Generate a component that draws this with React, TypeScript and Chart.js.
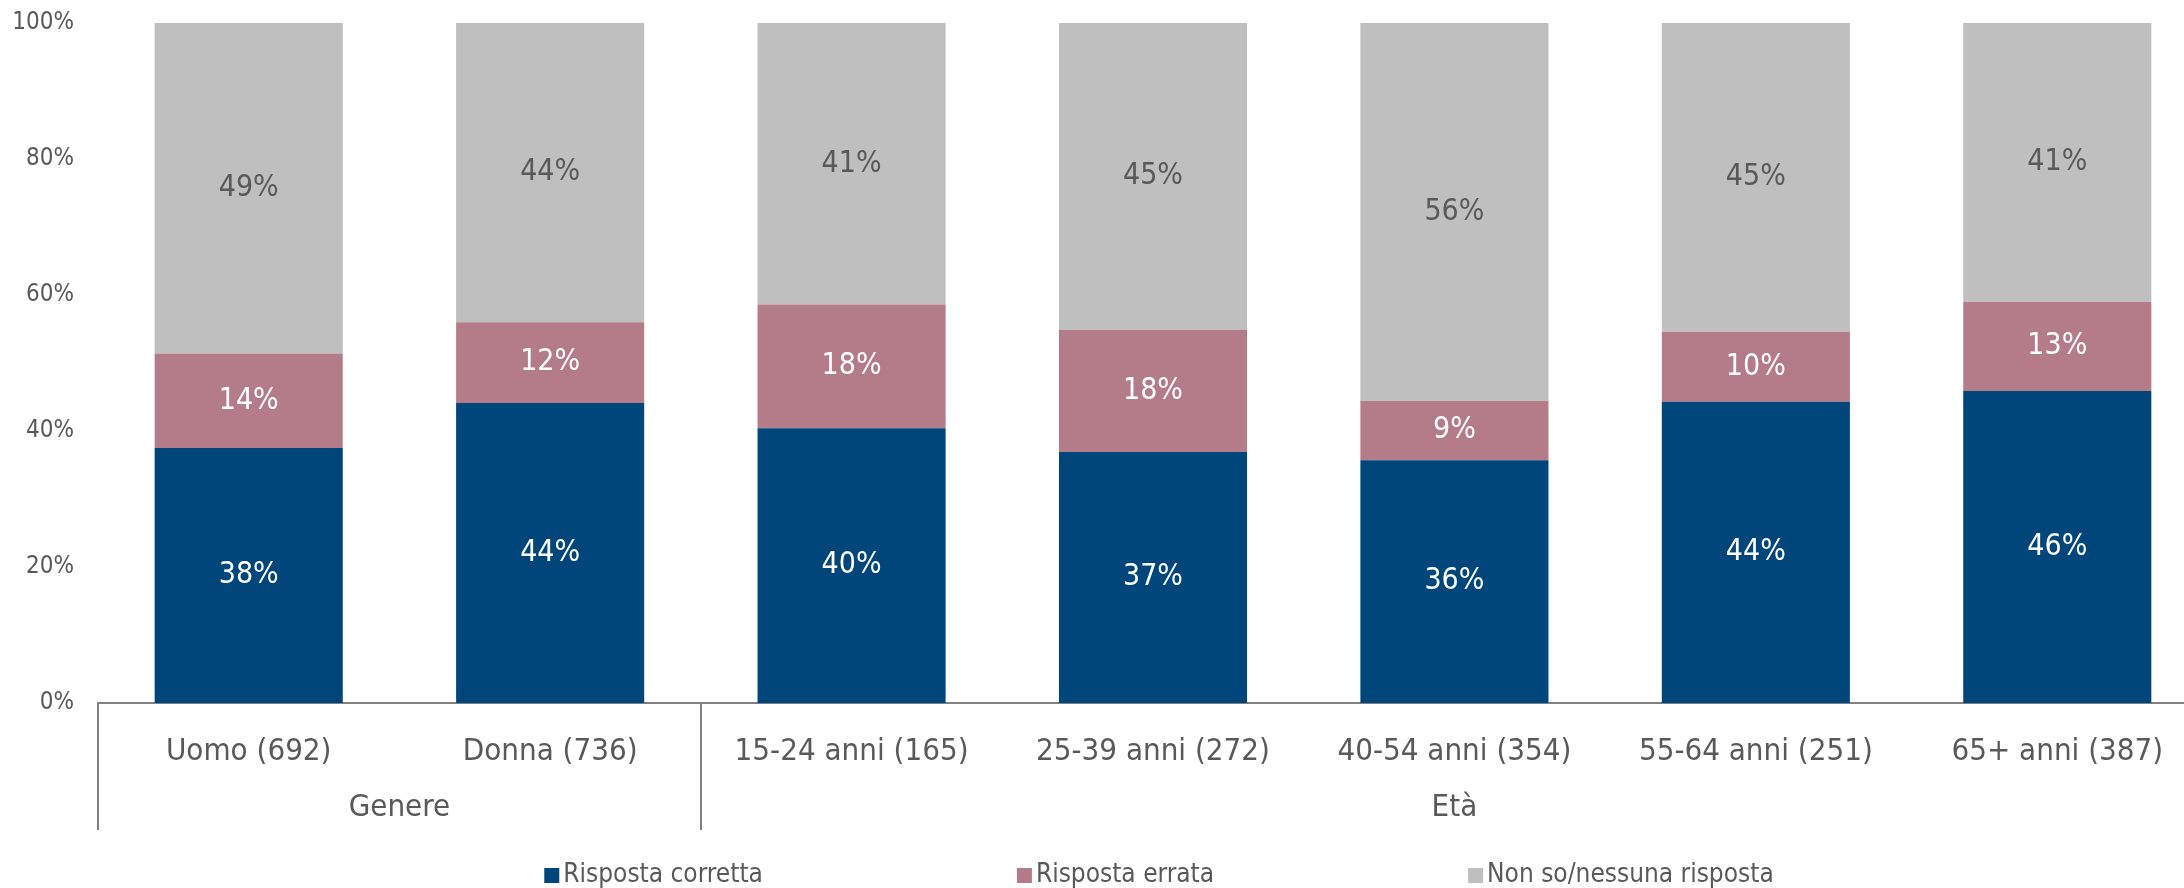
import React, { useEffect, useRef } from 'react';
import { Chart, registerables } from 'chart.js';

Chart.register(...registerables);

const categories = [
  'Uomo (692)',
  'Donna (736)',
  '15-24 anni (165)',
  '25-39 anni (272)',
  '40-54 anni (354)',
  '55-64 anni (251)',
  '65+ anni (387)',
];
const groupLabels = ['Genere', 'Età'];
const groupSizes = [2, 5];
const seriesNames = ['Risposta corretta', 'Risposta errata', 'Non so/nessuna risposta'];
const corretta = [37.5, 44.1, 40.4, 36.9, 35.7, 44.3, 45.9];
const errata = [13.9, 11.9, 18.2, 18.0, 8.7, 10.3, 13.1];
const nonSo = [48.6, 44.0, 41.4, 45.1, 55.6, 45.4, 41.0];
const yTickValues = [0, 20, 40, 60, 80, 100];

const seriesColors = ['#00467a', '#b47c88', '#bfbfbf'];
const labelColors = ['#ffffff', '#ffffff', '#595959'];
const FONT = "'DejaVu Sans Condensed', 'DejaVu Sans', sans-serif";
const TEXT = '#595959';
const AXIS = '#808080';

const dataLabelsPlugin = {
  id: 'dataLabels',
  afterDatasetsDraw(chart: any) {
    const ctx = chart.ctx;
    ctx.save();
    ctx.font = `30px ${FONT}`;
    ctx.textAlign = 'center';
    ctx.textBaseline = 'middle';
    chart.data.datasets.forEach((ds: any, di: number) => {
      const meta = chart.getDatasetMeta(di);
      meta.data.forEach((el: any, i: number) => {
        const v = ds.data[i];
        ctx.fillStyle = labelColors[di];
        ctx.fillText(Math.round(v) + '%', el.x, (el.y + el.base) / 2);
      });
    });
    ctx.restore();
  },
};

const groupAxisPlugin = {
  id: 'groupAxis',
  afterDraw(chart: any) {
    const ctx = chart.ctx;
    const x = chart.scales.x;
    const area = chart.chartArea;
    const boundary = (idx: number) => {
      if (idx <= 0) return area.left;
      if (idx >= categories.length) return area.right;
      return (x.getPixelForValue(idx - 1) + x.getPixelForValue(idx)) / 2;
    };
    ctx.save();
    ctx.strokeStyle = AXIS;
    ctx.lineWidth = 2;
    let start = 0;
    const top = area.bottom;
    const bottom = area.bottom + 127;
    groupSizes.forEach((n, gi) => {
      const l = boundary(start);
      const r = boundary(start + n);
      ctx.beginPath();
      ctx.moveTo(Math.round(l), top);
      ctx.lineTo(Math.round(l), bottom);
      ctx.stroke();
      if (gi === groupSizes.length - 1) {
        ctx.beginPath();
        ctx.moveTo(Math.round(r), top);
        ctx.lineTo(Math.round(r), bottom);
        ctx.stroke();
      }
      ctx.fillStyle = TEXT;
      ctx.font = `31px ${FONT}`;
      ctx.textAlign = 'center';
      ctx.textBaseline = 'middle';
      ctx.fillText(groupLabels[gi], (l + r) / 2, area.bottom + 105);
      start += n;
    });
    ctx.restore();
  },
};

const legendPlugin = {
  id: 'customLegend',
  afterDraw(chart: any) {
    const ctx = chart.ctx;
    const area = chart.chartArea;
    ctx.save();
    ctx.font = `26px ${FONT}`;
    const box = 15;
    const boxGap = 4;
    const itemGap = 254;
    const widths = seriesNames.map((n) => box + boxGap + ctx.measureText(n).width);
    const total = widths.reduce((a, b) => a + b, 0) + itemGap * (widths.length - 1);
    let xPos = (area.left + area.right) / 2 + 6 - total / 2;
    const yc = 875;
    seriesNames.forEach((n, i) => {
      ctx.fillStyle = seriesColors[i];
      ctx.fillRect(xPos, yc - 7, box, 15);
      ctx.fillStyle = TEXT;
      ctx.textAlign = 'left';
      ctx.textBaseline = 'middle';
      ctx.fillText(n, xPos + box + boxGap, yc);
      xPos += widths[i] + itemGap;
    });
    ctx.restore();
  },
};

export default function App() {
  const ref = useRef<HTMLCanvasElement>(null);
  useEffect(() => {
    if (!ref.current) return;
    const chart = new Chart(ref.current, {
      type: 'bar',
      data: {
        labels: categories,
        datasets: [corretta, errata, nonSo].map((d, i) => ({
          label: seriesNames[i],
          data: d,
          backgroundColor: seriesColors[i],
          borderWidth: 0,
          categoryPercentage: 0.624,
          barPercentage: 1,
        })),
      },
      options: {
        responsive: false,
        animation: false,
        devicePixelRatio: 1,
        layout: { padding: { top: 23, left: 0, right: 0, bottom: 0 } },
        plugins: {
          legend: { display: false },
          tooltip: { enabled: false },
        },
        scales: {
          x: {
            stacked: true,
            grid: { display: false, drawTicks: false },
            border: { display: true, color: AXIS, width: 2 },
            ticks: {
              color: TEXT,
              font: { family: FONT, size: 31 },
              padding: 30,
              maxRotation: 0,
              autoSkip: false,
            },
            afterFit(scale: any) {
              scale.height = 185;
            },
          },
          y: {
            stacked: true,
            min: 0,
            max: 100,
            afterBuildTicks(scale: any) {
              scale.ticks = yTickValues.map((v) => ({ value: v }));
            },
            grid: { display: false, drawTicks: false },
            border: { display: false },
            ticks: {
              color: TEXT,
              font: { family: FONT, size: 24 },
              padding: 24,
              callback: (v: any) => v + '%',
            },
            afterFit(scale: any) {
              scale.width = 98;
              scale.paddingTop = 0;
              scale.paddingBottom = 0;
            },
          },
        },
      },
      plugins: [dataLabelsPlugin, groupAxisPlugin, legendPlugin],
    });
    return () => chart.destroy();
  }, []);

  return (
    <div
      style={{
        position: 'fixed',
        left: 0,
        top: 0,
        width: 2184,
        height: 888,
        overflow: 'hidden',
        background: '#ffffff',
      }}
    >
      <canvas ref={ref} width={2208} height={888} style={{ display: 'block', width: 2208, height: 888 }} />
    </div>
  );
}
